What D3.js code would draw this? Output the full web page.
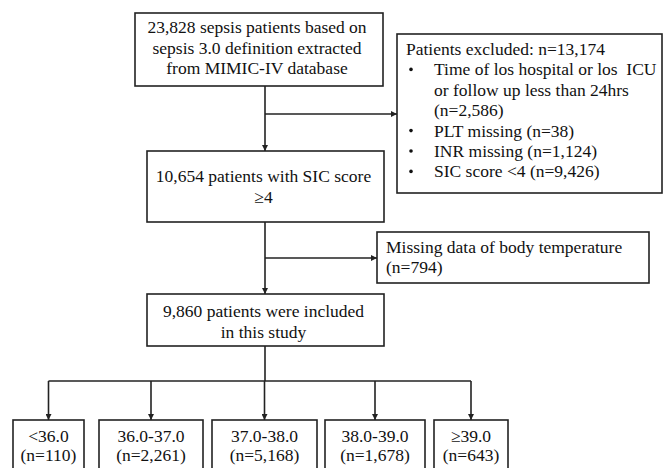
<!DOCTYPE html>
<html>
<head>
<meta charset="utf-8">
<script src="https://cdn.jsdelivr.net/npm/d3@7"></script>
<style>
  body { margin: 0; background: #fff; }
  svg text { font-family: "Liberation Serif", "Times New Roman", serif; fill: #111; white-space: pre; }
</style>
</head>
<body>
<svg id="flow"></svg>
<script>
// flow chart content
const mainSteps = [
  ["23,828 sepsis patients based on", "sepsis 3.0 definition extracted", "from MIMIC-IV database"],
  ["10,654 patients with SIC score", "≥4"],
  ["9,860 patients were included", "in this study"]
]
const excludedTitle = "Patients excluded: n=13,174"
const excludedItems = [
  ["Time of los hospital or los  ICU", "or follow up less than 24hrs", "(n=2,586)"],
  ["PLT missing (n=38)"],
  ["INR missing (n=1,124)"],
  ["SIC score <4 (n=9,426)"]
]
const missingText = ["Missing data of body temperature", "(n=794)"]
const groupLabels = ["<36.0", "36.0-37.0", "37.0-38.0", "38.0-39.0", "≥39.0"]
const groupCounts = ["(n=110)", "(n=2,261)", "(n=5,168)", "(n=1,678)", "(n=643)"]

const W = 664, H = 468
const fs = 17.5
const svg = d3.select("#flow").attr("width", W).attr("height", H)

// arrowhead
svg.append("defs").append("marker")
  .attr("id", "arr")
  .attr("viewBox", "0 0 10 10")
  .attr("refX", 10).attr("refY", 5)
  .attr("markerWidth", 7).attr("markerHeight", 6)
  .attr("markerUnits", "userSpaceOnUse")
  .attr("orient", "auto")
  .append("path").attr("d", "M0,0L10,5L0,10z").attr("fill", "#222")

const stroke = "#222"

// box geometry for main column
const mainBoxes = [
  {x0: 135, x1: 383, y0: 13, y1: 86, lines: mainSteps[0], base: 33},
  {x0: 147, x1: 384, y0: 151, y1: 222, lines: mainSteps[1], base: 182},
  {x0: 147, x1: 384, y0: 294, y1: 346, lines: mainSteps[2], base: 317}
]
const lineH = 20.5
const spine = 265

function box(x0, y0, x1, y1) {
  svg.append("rect")
    .attr("x", x0).attr("y", y0)
    .attr("width", x1 - x0).attr("height", y1 - y0)
    .attr("fill", "none").attr("stroke", stroke).attr("stroke-width", 1.6)
}
function line(pts, arrow) {
  const p = svg.append("path")
    .attr("d", d3.line()(pts))
    .attr("fill", "none").attr("stroke", stroke).attr("stroke-width", 1.6)
  if (arrow) p.attr("marker-end", "url(#arr)")
}

mainBoxes.forEach(b => {
  box(b.x0, b.y0, b.x1, b.y1)
  svg.append("g").selectAll("text")
    .data(b.lines).enter().append("text")
    .attr("x", (b.x0 + b.x1) / 2 - 2)
    .attr("y", (d, i) => b.base + i * lineH)
    .attr("text-anchor", "middle")
    .attr("font-size", fs)
    .text(d => d)
})

// excluded box
const ex = {x0: 397, x1: 662, y0: 34, y1: 193}
box(ex.x0, ex.y0, ex.x1, ex.y1)
const exLines = [{t: excludedTitle, bullet: false, first: true}]
excludedItems.forEach(item => item.forEach((t, j) => exLines.push({t: t, bullet: j === 0})))
const exG = svg.append("g")
exLines.forEach((d, i) => {
  const y = 55 + i * 20.4
  if (d.first) {
    exG.append("text").attr("x", 406).attr("y", y).attr("font-size", fs).text(d.t)
  } else {
    if (d.bullet) exG.append("circle").attr("cx", 411).attr("cy", y - 6).attr("r", 1.8).attr("fill", "#111")
    exG.append("text").attr("x", 434).attr("y", y).attr("font-size", fs).text(d.t)
  }
})

// missing box
const ms = {x0: 377, x1: 649, y0: 232, y1: 283}
box(ms.x0, ms.y0, ms.x1, ms.y1)
svg.append("g").selectAll("text")
  .data(missingText).enter().append("text")
  .attr("x", 386)
  .attr("y", (d, i) => 253 + i * 19.5)
  .attr("font-size", fs)
  .text(d => d)

// connectors
line([[spine, mainBoxes[0].y1], [spine, mainBoxes[1].y0]], true)
line([[spine, 114], [ex.x0, 114]], true)
line([[spine, mainBoxes[1].y1], [spine, mainBoxes[2].y0]], true)
line([[spine, 258], [ms.x0, 258]], true)

// group boxes
const groupX = [[13, 84], [99, 203], [212, 317], [325, 425], [434, 508]]
const gTop = 420, gBot = 474, branchY = 381
const centers = groupX.map(g => (g[0] + g[1]) / 2)
line([[spine, mainBoxes[2].y1], [spine, branchY]], false)
line([[d3.min(centers), branchY], [d3.max(centers), branchY]], false)

const groups = groupLabels.map((l, i) => ({label: l, count: groupCounts[i], x0: groupX[i][0], x1: groupX[i][1]}))
groups.forEach((g, i) => {
  const cx = centers[i]
  line([[cx, branchY], [cx, gTop]], true)
  box(g.x0, gTop, g.x1, gBot)
  svg.append("text").attr("x", cx).attr("y", 442).attr("text-anchor", "middle").attr("font-size", fs).text(g.label)
  svg.append("text").attr("x", cx).attr("y", 461).attr("text-anchor", "middle").attr("font-size", fs).text(g.count)
})
</script>
</body>
</html>
